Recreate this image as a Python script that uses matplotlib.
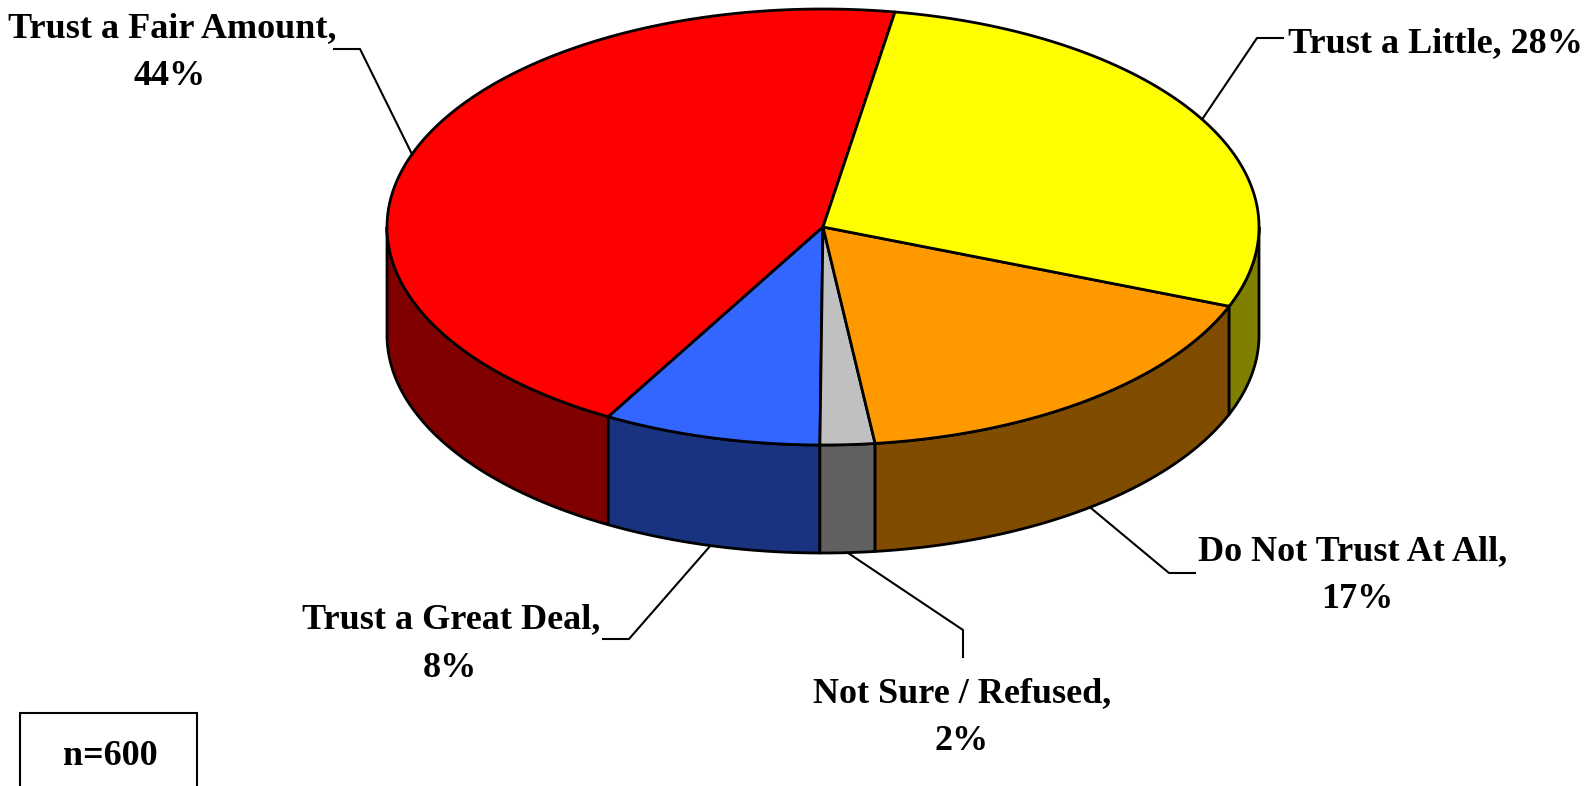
import numpy as np
import matplotlib.pyplot as plt
from matplotlib.patches import Polygon, Rectangle

labels = ['Trust a Fair Amount', 'Trust a Great Deal', 'Not Sure / Refused',
          'Do Not Trust At All', 'Trust a Little']
values = [44, 8, 2, 17, 28]
top_colors = ['#FF0000', '#3366FF', '#C0C0C0', '#FF9900', '#FFFF00']
side_colors = ['#800000', '#1A3380', '#606060', '#804C00', '#808000']
sample = 'n=600'

# pie geometry in pixels
cx, cy, rx, ry, depth = 823, 227, 436, 218, 108
start = 80.5

fig = plt.figure(figsize=(15.91, 7.86), dpi=100)
ax = fig.add_axes([0, 0, 1, 1])
ax.set_xlim(0, 1591)
ax.set_ylim(786, 0)
ax.axis('off')

def pt(t, dy=0):
    r = np.radians(t)
    return cx + rx * np.cos(r), cy - ry * np.sin(r) + dy

edges = start + np.concatenate([[0], np.cumsum(values)]) * 360 / sum(values)

# front side walls
for i in range(len(values)):
    lo, hi = max(edges[i], 180), min(edges[i + 1], 360)
    if hi <= lo:
        continue
    t = np.linspace(lo, hi, 200)
    xt, yt = pt(t)
    xb, yb = pt(t[::-1], depth)
    poly = np.column_stack([np.concatenate([xt, xb]), np.concatenate([yt, yb])])
    ax.add_patch(Polygon(poly, closed=True, facecolor=side_colors[i],
                         edgecolor='black', lw=2, joinstyle='round'))

# top wedges
for i in range(len(values)):
    t = np.linspace(edges[i], edges[i + 1], 300)
    x, y = pt(t)
    poly = np.column_stack([np.concatenate([[cx], x]), np.concatenate([[cy], y])])
    ax.add_patch(Polygon(poly, closed=True, facecolor=top_colors[i],
                         edgecolor='black', lw=2, joinstyle='round'))

font = dict(family='Liberation Serif', weight='bold', size=26, color='black')

# label layout: elbow point, end point, first line pos, second line pos
layout = [
    ((360, 49), (334, 49), (172, 37), (170, 85)),
    ((629, 639), (603, 639), (451, 628), (450, 677)),
    ((963, 630), (963, 657), (962, 702), (962, 750)),
    ((1169, 573), (1195, 573), (1353, 560), (1357, 608)),
    ((1257, 38), (1283, 38), (1435, 52), None),
]

for i, (elbow, end, p1, p2) in enumerate(layout):
    mid = (edges[i] + edges[i + 1]) / 2
    sx, sy = pt(mid, depth if np.sin(np.radians(mid)) < 0 else 0)
    ax.plot([sx, elbow[0], end[0]], [sy, elbow[1], end[1]], color='black', lw=1.5)
    if p2 is None:
        ax.text(p1[0], p1[1], f'{labels[i]}, {values[i]}%', ha='center', va='baseline', **font)
    else:
        ax.text(p1[0], p1[1], f'{labels[i]},', ha='center', va='baseline', **font)
        ax.text(p2[0], p2[1], f'{values[i]}%', ha='center', va='baseline', **font)

ax.add_patch(Rectangle((20, 713), 177, 100, facecolor='white', edgecolor='black', lw=1.5))
ax.text(110, 765, sample, ha='center', va='baseline', **font)

fig.savefig('out.png', dpi=100)
